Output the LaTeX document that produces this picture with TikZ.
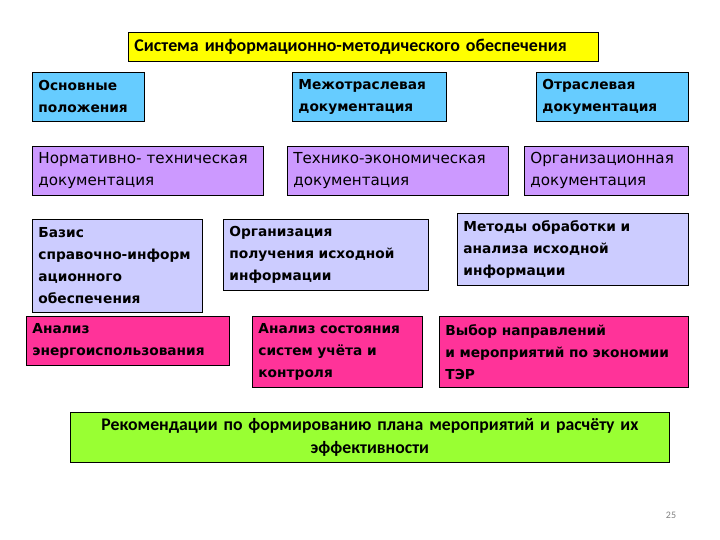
\documentclass[tikz,border=0pt]{standalone}
\usepackage{fontspec}
\setmainfont{DejaVu Sans}
\newfontfamily\calibri{Carlito}
\usetikzlibrary{positioning}
\definecolor{TitleYellow}{RGB}{255,255,0}
\definecolor{DocBlue}{RGB}{102,204,255}
\definecolor{DocPurple}{RGB}{204,153,255}
\definecolor{InfoLilac}{RGB}{204,204,255}
\definecolor{AnMagenta}{RGB}{255,51,153}
\definecolor{RecGreen}{RGB}{153,255,51}

\begin{document}
\begin{tikzpicture}[x=1bp, y=-1bp,
	b/.style={draw=black, line width=0.8bp, anchor=north west, align=left,
		inner xsep=6bp, inner ysep=2bp, font=\fontsize{15.2}{22}\selectfont},
	bb/.style={b, font=\fontsize{13.8}{22}\selectfont\bfseries},
	t/.style={b, fill=TitleYellow, font=\calibri\fontsize{18}{20}\selectfont\bfseries},
	d/.style={bb, fill=DocBlue},
	p/.style={b, fill=DocPurple},
	l/.style={bb, fill=InfoLilac},
	m/.style={bb, fill=AnMagenta},
	g/.style={b, fill=RecGreen, align=center, font=\calibri\fontsize{17.8}{23}\selectfont\bfseries}]
	\useasboundingbox (0,0) rectangle (720,540);
	% title
	\node[t, text width=458bp, minimum height=29bp] (sys) at (128,32)
		{Система информационно-методического обеспечения};
	% documentation
	\node[d, text width=100bp, minimum height=49bp] (osn) at (32,72)
		{Основные\\положения};
	\node[d, text width=142bp, minimum height=49bp] (mezh) at (292,72)
		{Межотраслевая\\документация};
	\node[d, text width=140bp, minimum height=49bp] (otr) at (536,72)
		{Отраслевая\\документация};
	\node[p, text width=219bp, minimum height=49bp] (norm) at (32,146)
		{Нормативно- техническая\\документация};
	\node[p, text width=209bp, minimum height=49bp] (tekh) at (287,146)
		{Технико-экономическая\\документация};
	\node[p, text width=152bp, minimum height=49bp] (orgd) at (524,146)
		{Организационная\\документация};
	% information
	\node[l, text width=158bp, minimum height=93bp] (baz) at (32,219)
		{Базис\\справочно-информ\\ационного\\обеспечения};
	\node[l, text width=193bp, minimum height=71bp] (pol) at (223,219)
		{Организация\\получения исходной\\информации};
	\node[l, text width=219bp, minimum height=72bp] (met) at (457,213)
		{Методы обработки и\\анализа исходной\\информации};
	% analysis
	\node[m, text width=191bp, minimum height=49bp] (en) at (26,316)
		{Анализ\\энергоиспользования};
	\node[m, text width=158bp, minimum height=71bp] (uch) at (252,316)
		{Анализ состояния\\систем учёта и\\контроля};
	\node[m, text width=237bp, minimum height=71bp] (vyb) at (439,316)
		{Выбор направлений\\и мероприятий по экономии\\ТЭР};
	% result
	\node[g, text width=587bp, minimum height=50bp] (rek) at (70,412)
		{Рекомендации по формированию плана мероприятий и расчёту их\\эффективности};
	\node[text=gray, font=\calibri\fontsize{10}{12}\selectfont] (num) at (671,515) {25};
\end{tikzpicture}
\end{document}
